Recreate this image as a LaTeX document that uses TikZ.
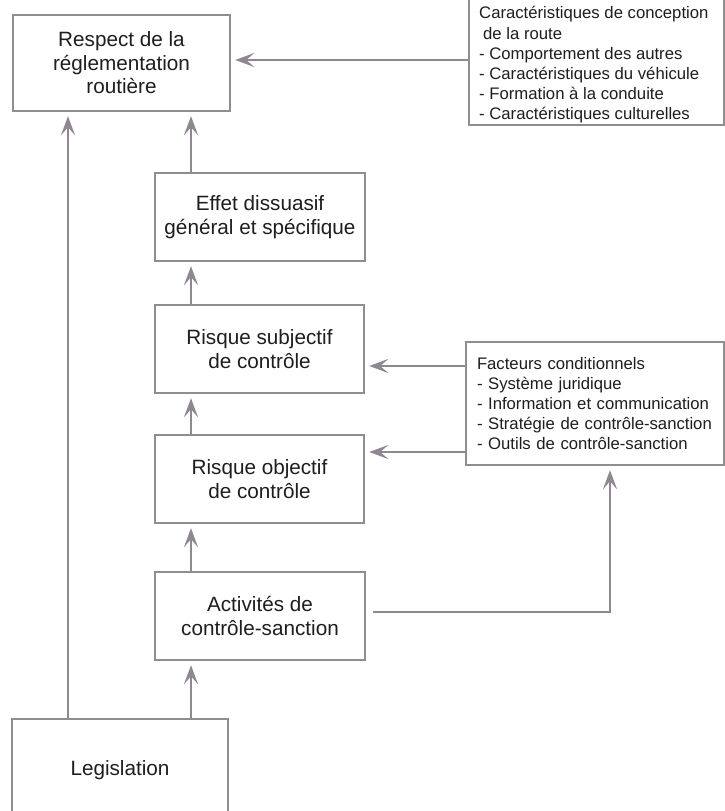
\documentclass[tikz,border=0pt]{standalone}
\usepackage{fontspec}
\setmainfont{Liberation Sans}
\usetikzlibrary{arrows.meta}
\definecolor{boxgray}{HTML}{8E8E8E}
\definecolor{arrgray}{HTML}{8F8791}
\definecolor{txt}{HTML}{1E1E1E}
\begin{document}
\begin{tikzpicture}[x=1pt,y=1pt,
  box/.style={draw=boxgray, line width=2.4pt, fill=white, inner sep=0pt, text=txt,
    font=\fontsize{20.7}{23.5}\selectfont, align=center},
  sidebox/.style={draw=boxgray, line width=2.4pt, fill=white, inner sep=0pt, text=txt,
    font=\fontsize{16.7}{20.2}\selectfont, align=left},
  arr/.style={draw=arrgray, line width=2.8pt, -{Stealth[length=19pt,width=14pt,inset=8pt]}, shorten >=4pt},
]
\fill[white] (0,0) rectangle (725,-811);
\useasboundingbox (0,0) rectangle (725,-811);

\node[box, minimum width=217pt, minimum height=96pt] (respect) at (121.5,-63) {Respect de la\\réglementation\\routière};
\node[box, minimum width=210pt, minimum height=88pt] (effet) at (260,-217) {Effet dissuasif\\général et spécifique};
\node[box, minimum width=209pt, minimum height=88pt] (subj) at (259.5,-349) {Risque subjectif\\de contrôle};
\node[box, minimum width=209pt, minimum height=88pt] (obj) at (259.5,-479) {Risque objectif\\de contrôle};
\node[box, minimum width=210pt, minimum height=88pt] (act) at (260,-616) {Activités de\\contrôle-sanction};
\node[box, minimum width=216pt, minimum height=102pt] (legis) at (120,-770) {Legislation};

\node[sidebox, minimum width=255pt, minimum height=130pt] (ctxbox) at (596.5,-60) {};
\node[text=txt, font=\fontsize{16.7}{20.2}\selectfont, align=left, anchor=west, inner sep=0pt] (ctxtext) at (479,-65)
  {Caractéristiques de conception\\\hspace{4pt}de la route\\- Comportement des autres\\- Caractéristiques du véhicule\\- Formation à la conduite\\- Caractéristiques culturelles};

\node[sidebox, minimum width=258pt, minimum height=123pt, text width=236pt] (fact) at (595,-403.5)
  {Facteurs conditionnels\\- Système juridique\\- Information et communication\\- Stratégie de contrôle-sanction\\- Outils de contrôle-sanction};

\coordinate (lx) at (68,0);
\coordinate (mx) at (191,0);
\coordinate (yt) at (0,-60);
\coordinate (ya) at (0,-366);
\coordinate (yb) at (0,-452);
\coordinate (fx) at (610,-612);

\draw[arr] (legis.north -| lx) -- (respect.south -| lx);
\draw[arr] (effet.north -| mx) -- (respect.south -| mx);
\draw[arr] (subj.north -| mx) -- (effet.south -| mx);
\draw[arr] (obj.north -| mx) -- (subj.south -| mx);
\draw[arr] (act.north -| mx) -- (obj.south -| mx);
\draw[arr] (legis.north -| mx) -- (act.south -| mx);
\draw[arr] (ctxbox.west |- yt) -- (respect.east |- yt);
\draw[arr] (fact.west |- ya) -- (subj.east |- ya);
\draw[arr] (fact.west |- yb) -- (obj.east |- yb);
\draw[arr, shorten <=7pt] (act.east |- fx) -- (fx) -- (fact.south -| fx);
\end{tikzpicture}
\end{document}
